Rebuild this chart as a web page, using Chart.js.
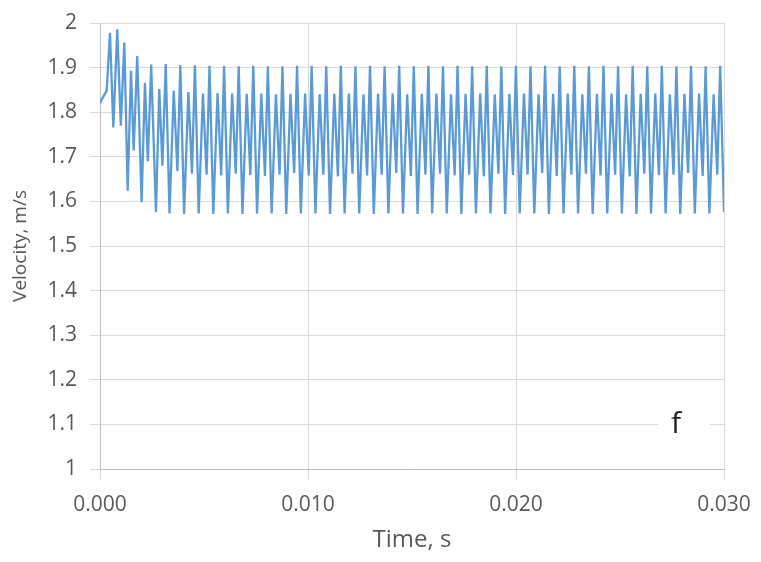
<!DOCTYPE html>
<html>
<head>
<meta charset="utf-8">
<script src="https://cdn.jsdelivr.net/npm/chart.js@4"></script>
<style>
html,body{margin:0;padding:0;background:#fff}
#wrap{position:relative;width:761px;height:562px}
</style>
</head>
<body>
<div id="wrap"><canvas id="c"></canvas></div>
<script>
// time in ms, velocity in m/s
const TIME_MS=[
  0.00,0.10,0.32,0.48,0.64,0.83,1.00,1.17,1.33,1.49,1.62,1.79,2.00,2.16,2.30,2.46,2.69,2.85,3.00,
  3.160,3.342,3.546,3.721, 3.862,4.044,4.248,4.423, 4.563,4.745,4.949,5.124, 5.265,5.447,5.651,5.826,
  5.966,6.148,6.352,6.527, 6.668,6.850,7.054,7.229, 7.369,7.551,7.755,7.930, 8.071,8.253,8.457,8.632,
  8.772,8.954,9.158,9.333, 9.474,9.656,9.860,10.035, 10.175,10.357,10.561,10.736, 10.877,11.059,11.263,11.438,
  11.578,11.760,11.964,12.139, 12.280,12.462,12.666,12.841, 12.981,13.163,13.367,13.542, 13.683,13.865,14.069,14.244,
  14.384,14.566,14.770,14.945, 15.086,15.268,15.472,15.647, 15.787,15.969,16.173,16.348, 16.489,16.671,16.875,17.050,
  17.190,17.372,17.576,17.751, 17.892,18.074,18.278,18.453, 18.593,18.775,18.979,19.154, 19.295,19.477,19.681,19.856,
  19.996,20.178,20.382,20.557, 20.698,20.880,21.084,21.259, 21.399,21.581,21.785,21.960, 22.101,22.283,22.487,22.662,
  22.802,22.984,23.188,23.363, 23.504,23.686,23.890,24.065, 24.205,24.387,24.591,24.766, 24.907,25.089,25.293,25.468,
  25.608,25.790,25.994,26.169, 26.310,26.492,26.696,26.871, 27.011,27.193,27.397,27.572, 27.713,27.895,28.099,28.274,
  28.414,28.596,28.800,28.975, 29.116,29.298,29.502,29.677, 29.817,30.000
];
const VELOCITY=[
  1.820,1.830,1.848,1.978,1.766,1.986,1.770,1.956,1.624,1.893,1.714,1.926,1.598,1.866,1.690,1.907,1.576,1.852,1.680,
  1.908,1.573,1.848,1.668, 1.906,1.572,1.845,1.662, 1.905,1.573,1.842,1.660, 1.904,1.572,1.843,1.658,
  1.904,1.573,1.842,1.662, 1.903,1.572,1.841,1.659, 1.904,1.573,1.842,1.657, 1.903,1.573,1.840,1.660,
  1.903,1.572,1.841,1.664, 1.904,1.573,1.842,1.658, 1.904,1.573,1.840,1.660, 1.903,1.572,1.841,1.656,
  1.904,1.573,1.842,1.662, 1.903,1.573,1.840,1.658, 1.904,1.572,1.841,1.660, 1.903,1.573,1.842,1.664,
  1.904,1.573,1.840,1.657, 1.903,1.572,1.841,1.660, 1.904,1.573,1.842,1.662, 1.903,1.573,1.840,1.658,
  1.904,1.572,1.841,1.660, 1.903,1.573,1.842,1.656, 1.904,1.573,1.840,1.662, 1.903,1.572,1.841,1.659,
  1.904,1.573,1.842,1.660, 1.903,1.573,1.840,1.664, 1.904,1.572,1.841,1.657, 1.903,1.573,1.842,1.660,
  1.904,1.573,1.840,1.662, 1.903,1.572,1.841,1.658, 1.904,1.573,1.842,1.660, 1.903,1.573,1.840,1.656,
  1.904,1.572,1.841,1.662, 1.903,1.573,1.842,1.659, 1.904,1.573,1.840,1.660, 1.903,1.572,1.841,1.664,
  1.904,1.573,1.842,1.657, 1.903,1.573,1.840,1.660, 1.904,1.576
];
const X_MIN=0,X_MAX=0.030,X_STEP=0.010;
const Y_MIN=1,Y_MAX=2,Y_STEP=0.1;
const X_TITLE='Time, s',Y_TITLE='Velocity, m/s',PANEL='f';

const FONT='"Open Sans", sans-serif';
const TXT='#595959',GRID='#d9d9d9',AXIS='#bfbfbf',LINE='#5b9bd5';

const pts=TIME_MS.map((t,i)=>({x:t/1000,y:VELOCITY[i]}));

// panel letter in a white box over the 1.1 gridline
const panelLabel={
  id:'panelLabel',
  afterDraw(chart){
    const {ctx,scales:{x,y}}=chart;
    const cx=x.getPixelForValue(0.0277),cy=y.getPixelForValue(1.1);
    ctx.save();
    ctx.fillStyle='#fff';
    ctx.fillRect(cx-18,cy-16,52,32);
    ctx.fillStyle='#222';
    ctx.font='30px '+FONT;
    ctx.textAlign='center';ctx.textBaseline='middle';
    ctx.fillText(PANEL,cx,cy);
    ctx.restore();
  }
};

new Chart(document.getElementById('c'),{
  type:'line',
  data:{datasets:[{data:pts,borderColor:LINE,borderWidth:2.3,pointRadius:0,tension:0,fill:false}]},
  options:{
    responsive:true,maintainAspectRatio:false,animation:false,
    layout:{padding:{top:23,right:37,left:0,bottom:0}},
    plugins:{legend:{display:false},tooltip:{enabled:false}},
    scales:{
      x:{type:'linear',min:X_MIN,max:X_MAX,
        afterFit:s=>{s.height=93;s.paddingLeft=0;s.paddingRight=0},
        grid:{color:GRID,tickLength:10,tickColor:GRID},
        border:{color:AXIS},
        ticks:{stepSize:X_STEP,padding:13,color:TXT,font:{size:21,family:FONT},maxRotation:0,
          callback:v=>v.toFixed(3)},
        title:{display:true,text:X_TITLE,color:TXT,font:{size:24,family:FONT},padding:{top:0,bottom:7}}},
      y:{type:'linear',min:Y_MIN,max:Y_MAX,
        afterFit:s=>{s.width=100;s.paddingTop=0;s.paddingBottom=0},
        grid:{color:GRID,tickLength:10,tickColor:GRID},
        border:{color:AXIS},
        ticks:{stepSize:Y_STEP,padding:13,color:TXT,font:{size:21,family:FONT},
          callback:v=>String(Number(v.toFixed(1)))},
        title:{display:true,text:Y_TITLE,color:TXT,font:{size:19,family:FONT},padding:{top:9,bottom:0}}}
    }
  },
  plugins:[panelLabel]
});
</script>
</body>
</html>
